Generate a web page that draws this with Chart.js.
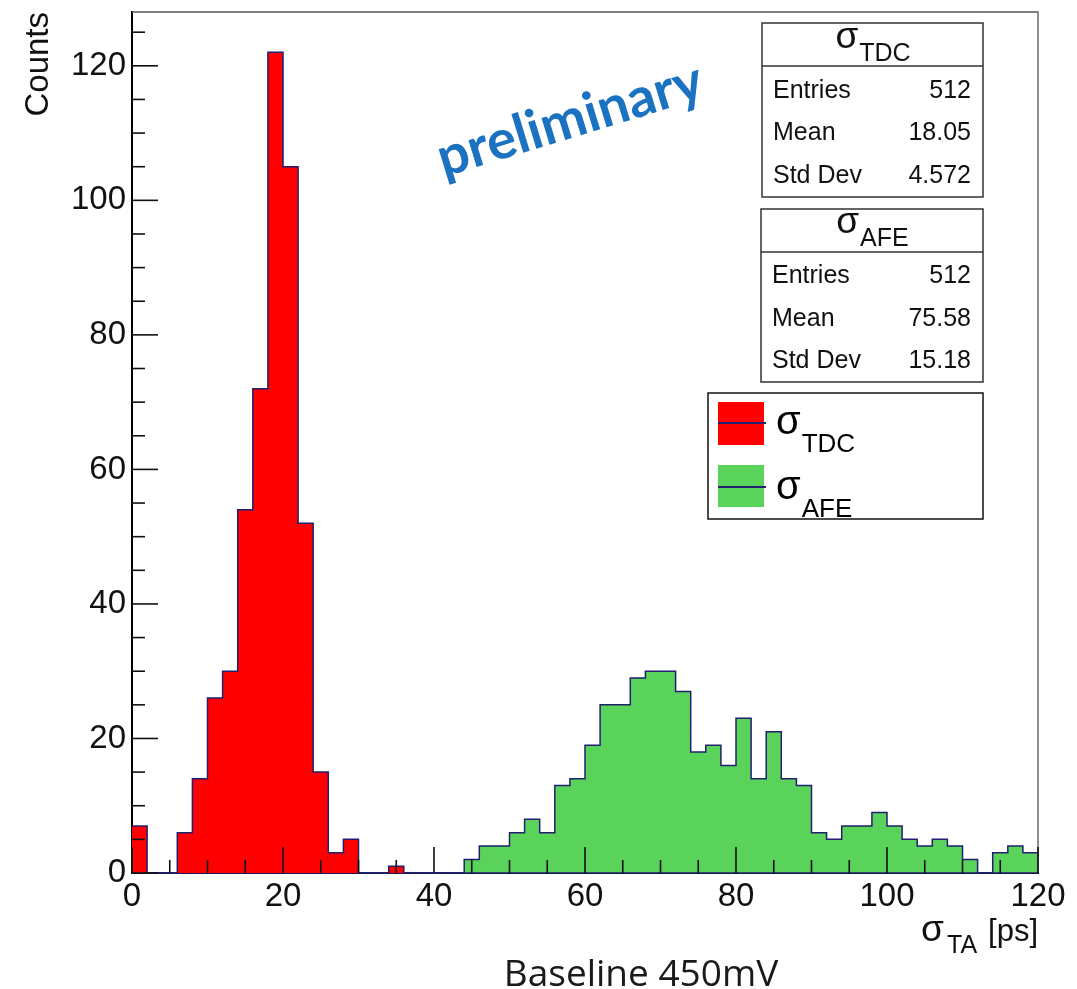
<!DOCTYPE html>
<html><head><meta charset="utf-8">
<script src="https://cdn.jsdelivr.net/npm/chart.js@4/dist/chart.umd.min.js"></script>
<style>html,body{margin:0;padding:0;background:#fff}#wrap{width:1077px;height:989px;position:relative}</style>
</head><body><div id="wrap"><canvas id="c"></canvas></div>
<script>
// ---- data ----
const binEdges = [0,2,4,6,8,10,12,14,16,18,20,22,24,26,28,30,32,34,36,38,40,42,44,46,48,50,52,54,56,58,60,62,64,66,68,70,72,74,76,78,80,82,84,86,88,90,92,94,96,98,100,102,104,106,108,110,112,114,116,118,120];
const tdcCounts = [7,0,0,6,14,26,30,54,72,122, 105,52,15,3,5,0,0,1,0,0, 0,0,0,0,0,0,0,0,0,0, 0,0,0,0,0,0,0,0,0,0, 0,0,0,0,0,0,0,0,0,0, 0,0,0,0,0,0,0,0,0,0];
const afeCounts = [0,0,0,0,0,0,0,0,0,0, 0,0,0,0,0,0,0,0,0,0, 0,0,2,4,4,6,8,6,13,14, 19,25,25,29,30,30,27,18,19,16, 23,14,21,14,13,6,5,7,7,9, 7,5,4,5,4,2,0,3,4,3];
const xTickValues = [0,20,40,60,80,100,120];
const yTickValues = [0,20,40,60,80,100,120];
const statLabels = ['Entries','Mean','Std Dev'];
const tdcStats = ['512','18.05','4.572'];
const afeStats = ['512','75.58','15.18'];
const seriesNames = ['TDC','AFE'];
const seriesColors = ['#ff0000','#5ad35a'];
const yTitle = 'Counts';
const xTitleSub = 'TA';
const xTitleUnit = '[ps]';
const captionText = 'Baseline 450mV';
const stampText = 'preliminary';

const FONT = "'Liberation Sans', Arial, sans-serif";
const OUTLINE = '#20206e';

function toPoints(counts){
  return binEdges.map((x,i)=>({x:x, y: i<counts.length ? counts[i] : counts[counts.length-1]}));
}

function sigmaText(ctx, x, base, mainSize, subSize, drop, sub, align){
  ctx.font = mainSize + 'px ' + FONT;
  const w1 = ctx.measureText('σ').width;
  ctx.font = subSize + 'px ' + FONT;
  const w2 = ctx.measureText(sub).width;
  let x0 = x;
  if (align === 'center') x0 = x - (w1 + w2)/2;
  ctx.textAlign = 'left'; ctx.textBaseline = 'alphabetic';
  ctx.font = mainSize + 'px ' + FONT;
  ctx.fillText('σ', x0, base);
  ctx.font = subSize + 'px ' + FONT;
  ctx.fillText(sub, x0 + w1 + 1, base + drop);
}

function statBox(ctx, box, name, vals){
  ctx.save();
  ctx.strokeStyle = '#333'; ctx.lineWidth = 1.5;
  ctx.strokeRect(box.l, box.t, box.r-box.l, box.b-box.t);
  ctx.beginPath(); ctx.moveTo(box.l, box.div); ctx.lineTo(box.r, box.div); ctx.stroke();
  ctx.fillStyle = '#111';
  sigmaText(ctx, (box.l+box.r)/2, box.tb, 37, 25, 13, name, 'center');
  ctx.font = '25px ' + FONT;
  statLabels.forEach((lab,i)=>{
    ctx.textAlign='left'; ctx.fillText(lab, box.l+11, box.rows[i]);
    ctx.textAlign='right'; ctx.fillText(vals[i], box.r-12, box.rows[i]);
  });
  ctx.restore();
}

const decor = {
  id:'decor',
  afterDatasetsDraw(chart){
    const ctx = chart.ctx, xs = chart.scales.x, ys = chart.scales.y, ca = chart.chartArea;
    ctx.save();
    // frame top/right
    ctx.strokeStyle = '#555'; ctx.lineWidth = 1.3;
    ctx.beginPath(); ctx.moveTo(ca.left, ca.top); ctx.lineTo(ca.right, ca.top); ctx.lineTo(ca.right, ca.bottom); ctx.stroke();
    // inward ticks
    ctx.strokeStyle = '#111'; ctx.lineWidth = 1.6;
    for (let v = 0; v <= 125; v += 5){
      const y = ys.getPixelForValue(v);
      const len = (v % 20 === 0) ? 26 : 13;
      ctx.beginPath(); ctx.moveTo(ca.left, y); ctx.lineTo(ca.left+len, y); ctx.stroke();
    }
    for (let v = 0; v <= 120; v += 5){
      const x = xs.getPixelForValue(v);
      const len = (v % 20 === 0) ? 26 : 13;
      ctx.beginPath(); ctx.moveTo(x, ca.bottom); ctx.lineTo(x, ca.bottom-len); ctx.stroke();
    }
    ctx.restore();
  },
  afterDraw(chart){
    const ctx = chart.ctx, ca = chart.chartArea;
    ctx.save();
    // stat boxes
    statBox(ctx, {l:762,t:23,r:983,b:197,div:66,tb:48,rows:[98,140,183]}, seriesNames[0], tdcStats);
    statBox(ctx, {l:761,t:209,r:983,b:382,div:252,tb:233,rows:[283,326,368]}, seriesNames[1], afeStats);
    // legend
    ctx.strokeStyle = '#111'; ctx.lineWidth = 1.5;
    ctx.strokeRect(708, 393, 275, 126);
    const sw = [{t:402,h:43,line:423,base:434},{t:465,h:42,line:487,base:499}];
    sw.forEach((s,i)=>{
      ctx.fillStyle = seriesColors[i];
      ctx.fillRect(718, s.t, 46, s.h);
      ctx.strokeStyle = OUTLINE; ctx.lineWidth = 2;
      ctx.beginPath(); ctx.moveTo(718, s.line); ctx.lineTo(766, s.line); ctx.stroke();
      ctx.fillStyle = '#000';
      sigmaText(ctx, 776, s.base, 40, 26, 18, seriesNames[i], 'left');
    });
    // x axis title
    ctx.fillStyle = '#111';
    ctx.textBaseline = 'alphabetic';
    ctx.font = '37px ' + FONT; ctx.textAlign = 'left';
    ctx.fillText('σ', 921, 941);
    ctx.font = '25px ' + FONT;
    ctx.fillText(xTitleSub, 947, 953);
    ctx.font = '31px ' + FONT; ctx.textAlign = 'right';
    ctx.fillText(xTitleUnit, ca.right, 941);
    // caption
    ctx.fillStyle = '#1a1a1a';
    ctx.font = "37px 'Open Sans', sans-serif"; ctx.textAlign = 'center';
    ctx.fillText(captionText, 641, 986);
    // stamp
    ctx.translate(570, 120);
    ctx.rotate(-17*Math.PI/180);
    ctx.fillStyle = '#1a72c0';
    let fs = 48;
    ctx.font = "bold " + fs + "px Lato, sans-serif";
    const w = ctx.measureText(stampText).width;
    fs = fs * 275 / w;
    ctx.font = "bold " + fs.toFixed(1) + "px Lato, sans-serif";
    ctx.textAlign = 'center'; ctx.textBaseline = 'middle';
    ctx.fillText(stampText, 0, 0);
    ctx.restore();
  }
};

const tickFont = {family: FONT, size: 33};
new Chart(document.getElementById('c'), {
  type: 'line',
  data: {
    datasets: [
      {label:'σTDC', data: toPoints(tdcCounts), stepped:'before', fill:'origin', backgroundColor: seriesColors[0], borderColor: OUTLINE, borderWidth:1.5, pointRadius:0, clip:false},
      {label:'σAFE', data: toPoints(afeCounts), stepped:'before', fill:'origin', backgroundColor: seriesColors[1], borderColor: OUTLINE, borderWidth:1.5, pointRadius:0, clip:false}
    ]
  },
  options: {
    responsive:true, maintainAspectRatio:false, animation:false,
    layout:{padding:{top:12, right:39, left:0, bottom:0}},
    plugins:{legend:{display:false}, tooltip:{enabled:false}},
    scales:{
      x:{type:'linear', min:0, max:120,
        afterBuildTicks: s => { s.ticks = xTickValues.map(v=>({value:v})); },
        afterFit: s => { s.height = 116; s.paddingLeft = 0; s.paddingRight = 0; },
        grid:{display:false, drawTicks:false, tickLength:0},
        border:{display:true, color:'#000', width:2},
        ticks:{font:tickFont, color:'#111', padding:4, maxRotation:0, autoSkip:false}
      },
      y:{type:'linear', min:0, max:128,
        afterBuildTicks: s => { s.ticks = yTickValues.map(v=>({value:v})); },
        afterFit: s => { s.width = 132; s.paddingTop = 0; s.paddingBottom = 0; },
        grid:{display:false, drawTicks:false, tickLength:0},
        border:{display:true, color:'#000', width:2},
        ticks:{font:tickFont, color:'#111', padding:6, autoSkip:false},
        title:{display:true, text:yTitle, align:'end', color:'#111', font:{family:FONT, size:33}, padding:{top:19, bottom:0}}
      }
    }
  },
  plugins:[decor]
});
</script></body></html>
